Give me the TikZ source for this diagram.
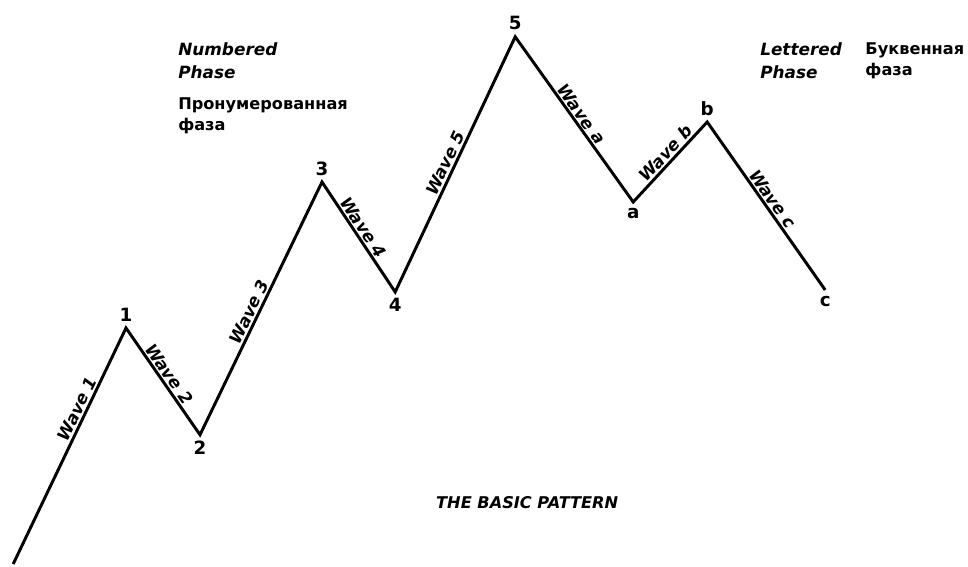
\documentclass[tikz,border=0pt]{standalone}
\usepackage{fontspec}
\setmainfont{DejaVu Sans}
\usetikzlibrary{positioning}

\begin{document}
\begin{tikzpicture}[wave/.style={line width=2.1pt,line join=miter},
        lbl/.style={font=\fontsize{12}{16.4}\selectfont\bfseries\itshape},
        mark lbl/.style={font=\fontsize{13}{14}\selectfont\bfseries,inner sep=1pt},
        ru/.style={font=\fontsize{11.5}{15}\selectfont\bfseries,align=left,inner sep=0pt,anchor=north west}]
        \useasboundingbox (0,0) rectangle (24.2,14.15);
        \coordinate (p0) at (0.33,0.05);
        \coordinate (p1) at (3.15,5.95);
        \coordinate (p2) at (5.0,3.28);
        \coordinate (p3) at (8.05,9.6);
        \coordinate (p4) at (9.88,6.85);
        \coordinate (p5) at (12.88,13.23);
        \coordinate (pa) at (15.83,9.1);
        \coordinate (pb) at (17.68,11.1);
        \coordinate (pc) at (20.63,6.9);
        \draw [wave] (p0) -- (p1) node [lbl,pos=0.64,sloped,above,inner sep=1pt] (w1) {Wave 1}
            -- (p2) node [lbl,pos=0.48,sloped,above,inner sep=1pt] (w2) {Wave 2}
            -- (p3) node [lbl,pos=0.47,sloped,above,inner sep=1pt] (w3) {Wave 3}
            -- (p4) node [lbl,pos=0.46,sloped,above,inner sep=1pt] (w4) {Wave 4}
            -- (p5) node [lbl,pos=0.49,sloped,above,inner sep=1pt] (w5) {Wave 5}
            -- (pa) node [lbl,pos=0.5,sloped,above,inner sep=1pt] (wa) {Wave a}
            -- (pb) node [lbl,pos=0.53,sloped,above,inner sep=1pt] (wb) {Wave b}
            -- (pc) node [lbl,pos=0.49,sloped,above,inner sep=1pt] (wc) {Wave c};
        \node [mark lbl,above=3.5pt of p1] (n1) {1};
        \node [mark lbl,below=3pt of p2] (n2) {2};
        \node [mark lbl,above=3.5pt of p3] (n3) {3};
        \node [mark lbl,below=3pt of p4] (n4) {4};
        \node [mark lbl,above=3.5pt of p5] (n5) {5};
        \node [mark lbl,below=3pt of pa] (na) {a};
        \node [mark lbl,above=3.5pt of pb] (nb) {b};
        \node [mark lbl,below=3pt of pc] (nc) {c};
        \node [lbl,align=left,inner sep=0pt,anchor=north west] (numbered) at (4.45,13.1) {Numbered\\Phase};
        \node [ru] (numbered ru) at (4.45,11.72) {Пронумерованная\\фаза};
        \node [lbl,align=left,inner sep=0pt,anchor=north west] (lettered) at (19.0,13.1) {Lettered\\Phase};
        \node [ru] (lettered ru) at (21.63,13.1) {Буквенная\\фаза};
        \node [lbl,font=\fontsize{11.5}{14}\selectfont\bfseries\itshape] (title) at (13.18,1.58) {THE BASIC PATTERN};
    \end{tikzpicture}
\end{document}
